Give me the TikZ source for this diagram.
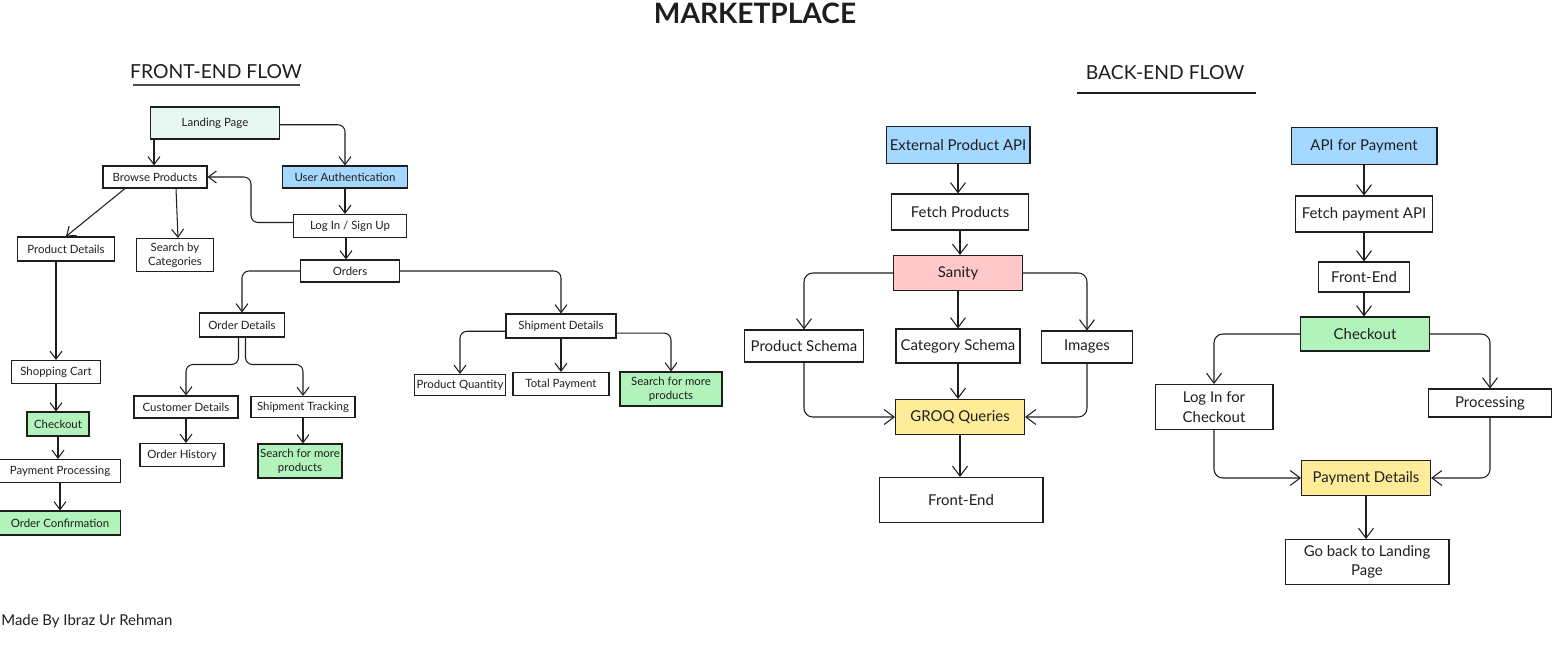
\documentclass[tikz,border=0pt]{standalone}
\usepackage{fontspec}
\setmainfont{Lato}
\usetikzlibrary{arrows.meta}

\definecolor{ink}{HTML}{1E1E1E}
\definecolor{mint}{HTML}{E6F8F1}
\definecolor{sky}{HTML}{A5D8FF}
\definecolor{leaf}{HTML}{B2F2BB}
\definecolor{rose}{HTML}{FFC9C9}
\definecolor{lemon}{HTML}{FFEC99}

\begin{document}
\begin{tikzpicture}[x=0.02cm, y=-0.02cm,
  box/.style={draw=ink, line width=0.6pt, inner sep=1pt, align=center, text=ink},
  fbox/.style={box, font=\fontsize{6.5}{8}\selectfont},
  bbox/.style={box, font=\fontsize{8.5}{11}\selectfont},
  farr/.style={draw=ink, line width=0.6pt, rounded corners=4pt, -{Straight Barb[length=1.6mm,width=2.4mm]}},
  barr/.style={draw=ink, line width=0.6pt, rounded corners=5pt, -{Straight Barb[length=2mm,width=3mm]}}]
  \useasboundingbox (0,0) rectangle (1554,655);

  % Titles
  \node[font=\fontsize{16}{18}\selectfont\bfseries, text=ink] (title) at (755,13) {MARKETPLACE};
  \node[font=\fontsize{11}{13}\selectfont, text=ink] (fehead) at (216,72) {FRONT-END FLOW};
  \node[font=\fontsize{11}{13}\selectfont, text=ink] (behead) at (1165,73) {BACK-END FLOW};
  \draw[ink!80, line width=0.8pt] (133,85) -- (300,85);
  \draw[ink, line width=0.8pt] (1077,93) -- (1256,93);
  \node[anchor=west, font=\fontsize{8.5}{10}\selectfont, text=ink, inner sep=0pt] (credit) at (1,621) {Made By Ibraz Ur Rehman};

  % Front-end nodes
  \node[fbox, fill=mint, minimum width=2.58cm, minimum height=0.64cm] (land) at (215,123) {Landing Page};
  \node[fbox, minimum width=2.08cm, minimum height=0.44cm] (browse) at (155,177) {Browse Products};
  \node[fbox, fill=sky, minimum width=2.5cm, minimum height=0.44cm] (auth) at (345,177) {User Authentication};
  \node[fbox, minimum width=2.26cm, minimum height=0.46cm] (login) at (350,226) {Log In / Sign Up};
  \node[fbox, minimum width=1.94cm, minimum height=0.48cm] (pdet) at (66,249) {Product Details};
  \node[fbox, minimum width=1.54cm, minimum height=0.66cm] (scat) at (175,255) {Search by\\Categories};
  \node[fbox, minimum width=1.98cm, minimum height=0.44cm] (orders) at (350,271) {Orders};
  \node[fbox, minimum width=1.7cm, minimum height=0.48cm] (odet) at (242,325) {Order Details};
  \node[fbox, minimum width=2.2cm, minimum height=0.48cm] (sdet) at (561,326) {Shipment Details};
  \node[fbox, minimum width=1.78cm, minimum height=0.46cm] (cart) at (56,372) {Shopping Cart};
  \node[fbox, fill=leaf, minimum width=1.24cm, minimum height=0.48cm] (chk) at (58,424) {Checkout};
  \node[fbox, minimum width=2.42cm, minimum height=0.46cm] (pproc) at (60,471) {Payment Processing};
  \node[fbox, fill=leaf, minimum width=2.42cm, minimum height=0.48cm] (oconf) at (60,523) {Order Confirmation};
  \node[fbox, minimum width=2.08cm, minimum height=0.44cm] (cdet) at (186,407) {Customer Details};
  \node[fbox, minimum width=2.08cm, minimum height=0.42cm] (strack) at (303,407) {Shipment Tracking};
  \node[fbox, minimum width=1.68cm, minimum height=0.46cm] (ohist) at (182,455) {Order History};
  \node[fbox, fill=leaf, minimum width=1.68cm, minimum height=0.68cm] (smore1) at (300,461) {Search for more\\products};
  \node[fbox, minimum width=1.76cm, minimum height=0.42cm] (pqty) at (460,385) {Product Quantity};
  \node[fbox, minimum width=1.92cm, minimum height=0.46cm] (tpay) at (561,384) {Total Payment};
  \node[fbox, fill=leaf, minimum width=2.04cm, minimum height=0.68cm] (smore2) at (671,389) {Search for more\\products};

  % Back-end nodes
  \node[bbox, fill=sky, minimum width=2.88cm, minimum height=0.74cm] (ext) at (958,145) {External Product API};
  \node[bbox, minimum width=2.74cm, minimum height=0.72cm] (fetch) at (960,212) {Fetch Products};
  \node[bbox, fill=rose, minimum width=2.58cm, minimum height=0.7cm] (sanity) at (958,273) {Sanity};
  \node[bbox, minimum width=2.38cm, minimum height=0.64cm] (psch) at (804,346) {Product Schema};
  \node[bbox, minimum width=2.48cm, minimum height=0.68cm] (csch) at (958,346) {Category Schema};
  \node[bbox, minimum width=1.82cm, minimum height=0.64cm] (img) at (1087,347) {Images};
  \node[bbox, fill=lemon, minimum width=2.58cm, minimum height=0.7cm] (groq) at (960,417) {GROQ Queries};
  \node[bbox, minimum width=3.28cm, minimum height=0.9cm] (fe1) at (961,500) {Front-End};

  \node[bbox, fill=sky, minimum width=2.92cm, minimum height=0.74cm] (apipay) at (1364,146) {API for Payment};
  \node[bbox, minimum width=2.74cm, minimum height=0.72cm] (fpay) at (1364,214) {Fetch payment API};
  \node[bbox, minimum width=1.82cm, minimum height=0.6cm] (fe2) at (1364,277) {Front-End};
  \node[bbox, fill=leaf, minimum width=2.58cm, minimum height=0.68cm] (chk2) at (1365,334) {Checkout};
  \node[bbox, minimum width=2.36cm, minimum height=0.9cm] (login2) at (1214,407) {Log In for\\Checkout};
  \node[bbox, minimum width=2.46cm, minimum height=0.56cm] (proc) at (1490,403) {Processing};
  \node[bbox, fill=lemon, minimum width=2.58cm, minimum height=0.7cm] (pdet2) at (1366,478) {Payment Details};
  \node[bbox, minimum width=3.28cm, minimum height=0.9cm] (goback) at (1367,562) {Go back to Landing\\Page};

  % Front-end edges
  \draw[farr] (land.south -| 154,0) -- (browse.north -| 154,0);
  \draw[farr] ([yshift=-1pt]land.east) -| (auth.north);
  \draw[farr] (browse.south -| 125,0) -- (pdet.north);
  \draw[farr] (browse.south -| 176,0) -- (scat.north -| 178,0);
  \draw[farr] ([yshift=2pt]login.west) -- ++(-42,0) |- (browse.east);
  \draw[farr] (auth.south) -- (auth.south |- login.north);
  \draw[farr] (login.south -| 346,0) -- (orders.north -| 346,0);
  \draw[farr] (pdet.south -| 56,0) -- (cart.north);
  \draw[farr] (cart.south) -- (cart.south |- chk.north);
  \draw[farr] (chk.south) -- (chk.south |- pproc.north);
  \draw[farr] (pproc.south) -- (oconf.north);
  \draw[farr] (orders.west) -| (odet.north);
  \draw[farr] (orders.east) -| (sdet.north);
  \draw[farr] ([xshift=-2pt]odet.south) -- ++(0,27) -| (cdet.north);
  \draw[farr] ([xshift=2pt]odet.south) -- ++(0,27) -| (strack.north);
  \draw[farr] (cdet.south) -- (cdet.south |- ohist.north);
  \draw[farr] (strack.south) -- (strack.south |- smore1.north);
  \draw[farr] ([yshift=-3pt]sdet.west) -| (pqty.north);
  \draw[farr] (sdet.south) -- (tpay.north);
  \draw[farr] ([yshift=-4pt]sdet.east) -| (smore2.north);

  % Back-end edges
  \draw[barr] (ext.south) -- (ext.south |- fetch.north);
  \draw[barr] (fetch.south) -- (fetch.south |- sanity.north);
  \draw[barr] (sanity.west) -| (psch.north);
  \draw[barr] (sanity.south) -- (csch.north);
  \draw[barr] (sanity.east) -| (img.north);
  \draw[barr] (psch.south) |- (groq.west);
  \draw[barr] (csch.south) -- (csch.south |- groq.north);
  \draw[barr] (img.south) |- (groq.east);
  \draw[barr] (groq.south) -- (groq.south |- fe1.north);

  \draw[barr] (apipay.south) -- (fpay.north);
  \draw[barr] (fpay.south) -- (fe2.north);
  \draw[barr] (fe2.south) -- (fe2.south |- chk2.north);
  \draw[barr] (chk2.west) -| (login2.north);
  \draw[barr] (chk2.east) -| (proc.north);
  \draw[barr] (login2.south) |- (pdet2.west);
  \draw[barr] (proc.south) |- (pdet2.east);
  \draw[barr] (pdet2.south) -- (pdet2.south |- goback.north);
\end{tikzpicture}
\end{document}
